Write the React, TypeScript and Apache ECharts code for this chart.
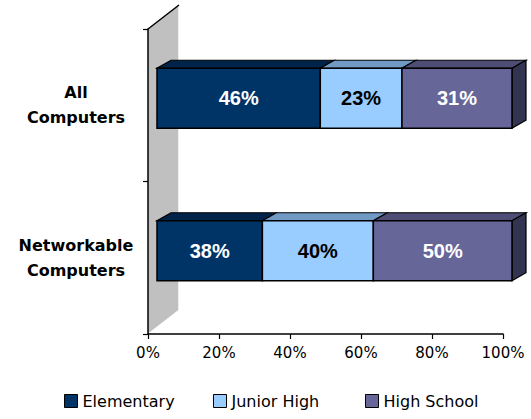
import React, { useEffect, useRef } from 'react';
import * as echarts from 'echarts';

const categories = ['All\nComputers', 'Networkable\nComputers'];
const seriesNames = ['Elementary', 'Junior High', 'High School'];
const elementary = [46, 38];
const juniorHigh = [23, 40];
const highSchool = [31, 50];
const xTickValues = [0, 20, 40, 60, 80, 100];

const frontColors = ['#003366', '#99ccff', '#666699'];
const topColors = ['#00234a', '#7099c4', '#4d4d75'];
const sideColor = '#333352';
const labelColors = ['#ffffff', '#000000', '#ffffff'];

const DX = 14, DY = -8, OX = 9, OY = -7, BAR_H = 60;
const WX = 31, WY = -24;

export default function App() {
  const ref = useRef<HTMLDivElement>(null);
  useEffect(() => {
    if (!ref.current) return;
    document.body.style.margin = '0';
    const chart = echarts.init(ref.current, undefined, { renderer: 'svg' });
    const raw = [elementary, juniorHigh, highSchool];
    const totals = categories.map((_, i) => raw.reduce((s, arr) => s + arr[i], 0));
    const cum = categories.map(() => 0);
    const seriesData = raw.map((arr) =>
      arr.map((v, i) => {
        const start = cum[i];
        const end = start + v / totals[i];
        cum[i] = end;
        return [start, end, i, v];
      })
    );

    const makeRender = (k: number) => (params: any, api: any) => {
      const s = api.value(0), e = api.value(1), c = api.value(2), v = api.value(3);
      const p0 = api.coord([s, c]);
      const p1 = api.coord([e, c]);
      const x0 = p0[0] + OX, x1 = p1[0] + OX;
      const yc = p0[1] + OY;
      const y0 = yc - BAR_H / 2, y1 = yc + BAR_H / 2;
      const children: any[] = [
        {
          type: 'polygon',
          shape: { points: [[x0, y0], [x1, y0], [x1 + DX, y0 + DY], [x0 + DX, y0 + DY]] },
          style: { fill: topColors[k], stroke: '#000', lineWidth: 1.2 },
        },
      ];
      if (k === raw.length - 1) {
        children.push({
          type: 'polygon',
          shape: { points: [[x1, y0], [x1 + DX, y0 + DY], [x1 + DX, y1 + DY], [x1, y1]] },
          style: { fill: sideColor, stroke: '#000', lineWidth: 1.2 },
        });
      }
      children.push({
        type: 'rect',
        shape: { x: x0, y: y0, width: x1 - x0, height: y1 - y0 },
        style: { fill: frontColors[k], stroke: '#000', lineWidth: 1.5 },
      });
      children.push({
        type: 'text',
        x: (x0 + x1) / 2,
        y: yc,
        style: {
          text: v + '%',
          fill: labelColors[k],
          font: 'bold 20px "Liberation Sans", Arial, sans-serif',
          align: 'center',
          verticalAlign: 'middle',
        },
      });
      return { type: 'group', children };
    };

    const wallRender = (params: any) => {
      const cs = params.coordSys;
      const x0 = cs.x, yT = cs.y, yB = cs.y + cs.height;
      return {
        type: 'group',
        children: [
          {
            type: 'polygon',
            shape: { points: [[x0, yT], [x0 + WX, yT + WY], [x0 + WX, yB + WY], [x0, yB]] },
            style: { fill: '#c0c0c0' },
          },
          { type: 'line', shape: { x1: x0 + WX, y1: yT + WY, x2: x0 + WX, y2: yB + WY }, style: { stroke: '#ffffff', lineWidth: 1.5 } },
          { type: 'line', shape: { x1: x0, y1: yB, x2: x0 + WX, y2: yB + WY }, style: { stroke: '#ffffff', lineWidth: 1 } },
          { type: 'line', shape: { x1: x0, y1: yT, x2: x0 + WX, y2: yT + WY }, style: { stroke: '#000000', lineWidth: 1.5 } },
        ],
      };
    };

    const legendLefts = [64, 213, 365];

    chart.setOption({
      animation: false,
      backgroundColor: '#ffffff',
      grid: { left: 148, right: 28, top: 29, bottom: 85, containLabel: false },
      xAxis: {
        type: 'value',
        min: xTickValues[0] / 100,
        max: xTickValues[xTickValues.length - 1] / 100,
        interval: (xTickValues[1] - xTickValues[0]) / 100,
        z: 10,
        axisLine: { show: true, lineStyle: { color: '#000', width: 1.5 } },
        axisTick: { show: true, length: 5, lineStyle: { color: '#000', width: 1.2 } },
        splitLine: { show: false },
        axisLabel: {
          formatter: (v: number) => Math.round(v * 100) + '%',
          fontFamily: '"DejaVu Sans", sans-serif',
          fontSize: 15,
          color: '#000',
          margin: 11,
        },
      },
      yAxis: {
        type: 'category',
        data: categories,
        inverse: true,
        z: 10,
        axisLine: { show: true, lineStyle: { color: '#000', width: 1.5 } },
        axisTick: { show: true, length: 5, lineStyle: { color: '#000', width: 1.2 } },
        axisLabel: {
          fontFamily: '"DejaVu Sans", sans-serif',
          fontSize: 16,
          fontWeight: 'bold',
          color: '#000',
          align: 'center',
          margin: 72,
          lineHeight: 25,
        },
      },
      legend: seriesNames.map((n, k) => ({
        data: [n],
        left: legendLefts[k],
        top: 393,
        padding: 0,
        icon: 'rect',
        itemWidth: 13,
        itemHeight: 13,
        itemStyle: { borderColor: '#000', borderWidth: 1 },
        textStyle: { fontFamily: '"DejaVu Sans", sans-serif', fontSize: 16, color: '#000' },
        selectedMode: false,
      })),
      series: [
        {
          type: 'custom',
          name: 'wall',
          renderItem: wallRender,
          data: [[0, 0]],
          encode: { x: 0, y: 1 },
          z: 1,
          silent: true,
        },
        ...seriesNames.map((n, k) => ({
          type: 'custom',
          name: n,
          renderItem: makeRender(k),
          data: seriesData[k],
          encode: { x: [0, 1], y: 2 },
          itemStyle: { color: frontColors[k] },
          z: 3,
        })),
      ],
    });
    return () => chart.dispose();
  }, []);
  return <div ref={ref} style={{ position: 'absolute', left: 0, top: 0, width: 531, height: 419 }} />;
}
